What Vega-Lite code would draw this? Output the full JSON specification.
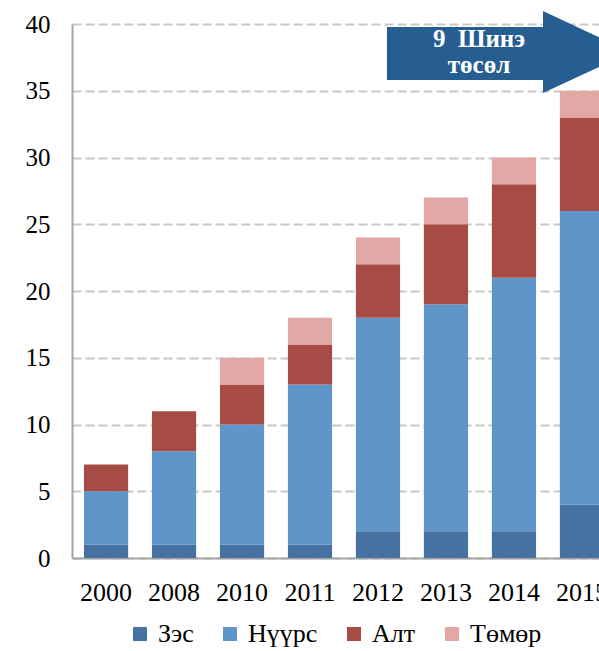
{
  "$schema": "https://vega.github.io/schema/vega-lite/v6.json",
  "width": 527,
  "height": 534,
  "autosize": {"type": "none"},
  "padding": {"left": 72, "top": 24, "right": 0, "bottom": 93},
  "background": "white",
  "config": {"view": {"stroke": null}, "font": "Times New Roman, Liberation Serif, serif"},
  "layer": [
    {
      "data": {
        "values": [
          {"year": "2000", "mineral": "Зэс", "ord": 1, "value": 1},
          {"year": "2000", "mineral": "Нүүрс", "ord": 2, "value": 4},
          {"year": "2000", "mineral": "Алт", "ord": 3, "value": 2},
          {"year": "2008", "mineral": "Зэс", "ord": 1, "value": 1},
          {"year": "2008", "mineral": "Нүүрс", "ord": 2, "value": 7},
          {"year": "2008", "mineral": "Алт", "ord": 3, "value": 3},
          {"year": "2010", "mineral": "Зэс", "ord": 1, "value": 1},
          {"year": "2010", "mineral": "Нүүрс", "ord": 2, "value": 9},
          {"year": "2010", "mineral": "Алт", "ord": 3, "value": 3},
          {"year": "2010", "mineral": "Төмөр", "ord": 4, "value": 2},
          {"year": "2011", "mineral": "Зэс", "ord": 1, "value": 1},
          {"year": "2011", "mineral": "Нүүрс", "ord": 2, "value": 12},
          {"year": "2011", "mineral": "Алт", "ord": 3, "value": 3},
          {"year": "2011", "mineral": "Төмөр", "ord": 4, "value": 2},
          {"year": "2012", "mineral": "Зэс", "ord": 1, "value": 2},
          {"year": "2012", "mineral": "Нүүрс", "ord": 2, "value": 16},
          {"year": "2012", "mineral": "Алт", "ord": 3, "value": 4},
          {"year": "2012", "mineral": "Төмөр", "ord": 4, "value": 2},
          {"year": "2013", "mineral": "Зэс", "ord": 1, "value": 2},
          {"year": "2013", "mineral": "Нүүрс", "ord": 2, "value": 17},
          {"year": "2013", "mineral": "Алт", "ord": 3, "value": 6},
          {"year": "2013", "mineral": "Төмөр", "ord": 4, "value": 2},
          {"year": "2014", "mineral": "Зэс", "ord": 1, "value": 2},
          {"year": "2014", "mineral": "Нүүрс", "ord": 2, "value": 19},
          {"year": "2014", "mineral": "Алт", "ord": 3, "value": 7},
          {"year": "2014", "mineral": "Төмөр", "ord": 4, "value": 2},
          {"year": "2015", "mineral": "Зэс", "ord": 1, "value": 4},
          {"year": "2015", "mineral": "Нүүрс", "ord": 2, "value": 22},
          {"year": "2015", "mineral": "Алт", "ord": 3, "value": 7},
          {"year": "2015", "mineral": "Төмөр", "ord": 4, "value": 2}
        ]
      },
      "mark": {"type": "bar"},
      "encoding": {
        "x": {
          "field": "year",
          "type": "nominal",
          "scale": {"range": [0, 544], "paddingInner": 0.35, "paddingOuter": 0.176},
          "axis": {
            "title": null,
            "labelAngle": 0,
            "ticks": false,
            "grid": false,
            "domainColor": "#A6A6A6",
            "domainWidth": 2,
            "labelFontSize": 26,
            "labelPadding": 21,
            "labelColor": "#000000",
            "labelFont": "Times New Roman, Liberation Serif, serif"
          }
        },
        "y": {
          "field": "value",
          "type": "quantitative",
          "stack": "zero",
          "scale": {"domain": [0, 40]},
          "axis": {
            "title": null,
            "values": [0, 5, 10, 15, 20, 25, 30, 35, 40],
            "ticks": false,
            "grid": true,
            "gridDash": [9, 4],
            "gridColor": "#C8C8C8",
            "gridWidth": 2,
            "domainColor": "#A6A6A6",
            "domainWidth": 2,
            "labelFontSize": 25,
            "labelPadding": 22,
            "labelColor": "#000000",
            "labelFont": "Times New Roman, Liberation Serif, serif"
          }
        },
        "color": {
          "field": "mineral",
          "type": "nominal",
          "scale": {
            "domain": ["Зэс", "Нүүрс", "Алт", "Төмөр"],
            "range": ["#4572A1", "#5F95C9", "#A64C45", "#E2A8A6"]
          },
          "legend": {
            "title": null,
            "orient": "none",
            "legendX": 55,
            "legendY": 597,
            "direction": "horizontal",
            "symbolType": "square",
            "symbolSize": 196,
            "symbolStrokeWidth": 0,
            "labelFontSize": 26,
            "labelFont": "Times New Roman, Liberation Serif, serif",
            "labelColor": "#000000",
            "labelOffset": 5,
            "columnPadding": 23
          }
        },
        "order": {"field": "ord", "type": "quantitative"}
      }
    },
    {
      "data": {"values": [{"year": "2014", "y": 37.9}]},
      "mark": {
        "type": "point",
        "shape": "M-1.041,-0.205 L0.238,-0.205 L0.238,-0.336 L0.959,0 L0.238,0.336 L0.238,0.23 L-1.041,0.23 Z",
        "size": 59536,
        "filled": true,
        "color": "#265E92",
        "opacity": 1,
        "strokeWidth": 0
      },
      "encoding": {
        "x": {"field": "year", "type": "nominal"},
        "y": {"field": "y", "type": "quantitative"}
      }
    },
    {
      "data": {"values": [{"year": "2014", "y": 38.85, "label": "9\u00a0\u00a0Шинэ|төсөл"}]},
      "mark": {
        "type": "text",
        "lineBreak": "|",
        "fontSize": 25,
        "fontWeight": "bold",
        "font": "Times New Roman, Liberation Serif, serif",
        "color": "#FFFFFF",
        "dx": -35,
        "lineHeight": 26,
        "baseline": "middle",
        "align": "center"
      },
      "encoding": {
        "x": {"field": "year", "type": "nominal"},
        "y": {"field": "y", "type": "quantitative"},
        "text": {"field": "label"}
      }
    }
  ]
}
